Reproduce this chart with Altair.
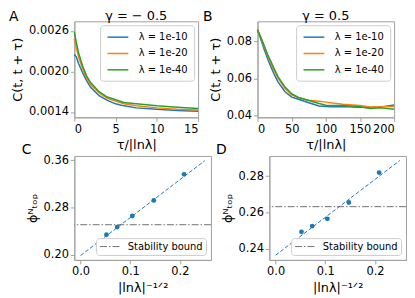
import altair as alt
import pandas as pd

FONT = "DejaVu Sans"
lam_labels = ["λ = 1e-10", "λ = 1e-20", "λ = 1e-40"]
colors = ["#1f77b4", "#ff7f0e", "#2ca02c"]
LINE_SYMBOL = "M-2.1,0H2.1"

# Panel A (gamma = -0.5)
a_tau = [0, 0.25, 0.5, 1, 1.5, 2, 3, 4, 5, 6, 7.5, 10, 12.5, 15]
a_blue = [0.00225, 0.00221, 0.00212, 0.00198, 0.00186, 0.00176, 0.00164, 0.00157,
          0.00152, 0.00149, 0.00146, 0.00144, 0.00142, 0.00141]
a_orange = [0.00248, 0.00235, 0.00222, 0.00204, 0.00190, 0.00180, 0.00168, 0.00160,
            0.00156, 0.00152, 0.00149, 0.00146, 0.00144, 0.00143]
a_green = [0.00258, 0.00242, 0.00228, 0.00208, 0.00193, 0.00183, 0.00170, 0.00162,
           0.00158, 0.00154, 0.00152, 0.00149, 0.00147, 0.00145]

# Panel B (gamma = 0.5)
b_tau = [0, 5, 10, 15, 20, 25, 30, 40, 50, 60, 75, 90, 100, 110, 125, 140, 150, 165, 180, 200]
b_blue = [0.0862, 0.0810, 0.0755, 0.0705, 0.0660, 0.0618, 0.0582, 0.0530, 0.0500, 0.0488,
          0.0470, 0.0452, 0.0449, 0.0448, 0.0450, 0.0446, 0.0445, 0.0444, 0.0446, 0.0458]
b_orange = [0.0862, 0.0818, 0.0770, 0.0722, 0.0680, 0.0638, 0.0602, 0.0548, 0.0512, 0.0496,
            0.0483, 0.0478, 0.0473, 0.0468, 0.0462, 0.0458, 0.0455, 0.0447, 0.0448, 0.0450]
b_green = [0.0862, 0.0820, 0.0775, 0.0728, 0.0688, 0.0648, 0.0610, 0.0555, 0.0518, 0.0498,
           0.0482, 0.0466, 0.0456, 0.0455, 0.0455, 0.0451, 0.0448, 0.0438, 0.0442, 0.0435]

# Panels C, D
inv_sqrt_ln = [0.0521, 0.0737, 0.1042, 0.1474, 0.2084]
c_phi = [0.234, 0.247, 0.2657, 0.292, 0.336]
d_phi = [0.2493, 0.2525, 0.2565, 0.2655, 0.282]
fit_x = [0.0, 0.25]
c_fit = [0.199, 0.359]
d_fit = [0.2364, 0.2887]
c_bound = 0.251
d_bound = 0.2632
bound_label = ["Stability bound"]


def label_text(t, x, y, size, align="left"):
    return alt.Chart(pd.DataFrame({"t": [t]})).mark_text(
        align=align, baseline="alphabetic", fontSize=size, font=FONT, color="black"
    ).encode(x=alt.value(x), y=alt.value(y), text="t:N")


def curve_panel(tau, series, xdom, xticks, ydom, yticks, yfmt, title, w, h, let, lx, ly):
    rows = []
    for lab, ser in zip(lam_labels, series):
        for t, v in zip(tau, ser):
            rows.append({"tau": t, "C": v, "lam": lab})
    df = pd.DataFrame(rows)
    lines = alt.Chart(df).mark_line(strokeWidth=1.5).encode(
        x=alt.X("tau:Q", scale=alt.Scale(domain=xdom, nice=False, zero=False),
                axis=alt.Axis(values=xticks, title="τ/|lnλ|", format="d")),
        y=alt.Y("C:Q", scale=alt.Scale(domain=ydom, nice=False, zero=False),
                axis=alt.Axis(values=yticks, format=yfmt, title="C(t, t + τ)")),
        color=alt.Color("lam:N", scale=alt.Scale(domain=lam_labels, range=colors),
                        legend=alt.Legend(title=None, orient="top-right", offset=4,
                                          fillColor="white", strokeColor="#cccccc",
                                          cornerRadius=3, padding=6, symbolType=LINE_SYMBOL,
                                          symbolSize=100, symbolOffset=6,
                                          symbolStrokeWidth=1.5,
                                          labelFontSize=10, labelFont=FONT, labelOffset=15,
                                          rowPadding=5.5)),
    )
    return alt.layer(
        lines,
        label_text(let, lx, ly, 14),
        label_text(title, w / 2, -1, 13, align="center"),
    ).properties(width=w, height=h)


def fit_panel(phi, fit, bound, ydom, yticks, w, h, let, lx, ly):
    pts = pd.DataFrame({"x": inv_sqrt_ln, "y": phi})
    fl = pd.DataFrame({"x": fit_x, "y": fit})
    bd = pd.DataFrame({"y": [bound], "lab": bound_label})
    xs = alt.Scale(domain=[-0.0125, 0.2625], nice=False, zero=False)
    ys = alt.Scale(domain=ydom, nice=False, zero=False)
    xax = alt.Axis(values=[0.0, 0.1, 0.2], format=".1f", title="|lnλ|⁻¹ᐟ²")
    yax = alt.Axis(values=yticks, format=".2f", title="ϕᴺₜₒₚ")
    line = alt.Chart(fl).mark_line(strokeWidth=1, strokeDash=[4, 2], color=colors[0]).encode(
        x=alt.X("x:Q", scale=xs, axis=xax), y=alt.Y("y:Q", scale=ys, axis=yax))
    dots = alt.Chart(pts).mark_circle(size=24, opacity=1, color=colors[0]).encode(
        x=alt.X("x:Q", scale=xs), y=alt.Y("y:Q", scale=ys))
    rule = alt.Chart(bd).mark_rule(strokeWidth=1, strokeDash=[7, 2, 1.5, 2]).encode(
        y=alt.Y("y:Q", scale=ys),
        color=alt.Color("lab:N", scale=alt.Scale(domain=bound_label, range=["#707070"]),
                        legend=alt.Legend(title=None, orient="bottom-right", offset=5,
                                          fillColor="white", strokeColor="#cccccc",
                                          cornerRadius=3, padding=3, symbolType=LINE_SYMBOL,
                                          symbolSize=100, symbolOffset=6,
                                          symbolStrokeWidth=1,
                                          symbolDash=[7, 2, 1.5, 2],
                                          labelFontSize=10, labelFont=FONT, labelOffset=12)),
    )
    return alt.layer(rule, line, dots, label_text(let, lx, ly, 14)).properties(width=w, height=h)


A = curve_panel(a_tau, [a_blue, a_orange, a_green], [0, 15], [0, 5, 10, 15],
                [0.00132, 0.00274], [0.0014, 0.0020, 0.0026], ".4f", "γ = − 0.5",
                125, 97, "A", -66, 0)
B = curve_panel(b_tau, [b_blue, b_orange, b_green], [0, 200], [0, 50, 100, 150, 200],
                [0.0391, 0.0908], [0.04, 0.06, 0.08], ".2f", "γ = 0.5",
                138, 97, "B", -55, 0)
C = fit_panel(c_phi, c_fit, c_bound, [0.1916, 0.367], [0.20, 0.28, 0.36], 138, 105, "C", -53, -2)
D = fit_panel(d_phi, d_fit, d_bound, [0.2338, 0.2912], [0.24, 0.26, 0.28], 138, 105, "D", -54, -2)

row1 = alt.hconcat(A, B, spacing=0).resolve_scale(color="independent").resolve_legend(color="independent")
row2 = alt.hconcat(C, D, spacing=3).resolve_scale(color="independent").resolve_legend(color="independent")

chart = alt.vconcat(row1, row2, spacing=-10).resolve_scale(color="independent").resolve_legend(
    color="independent"
).properties(padding=0).configure(font=FONT).configure_axis(
    labelFontSize=11.5, titleFontSize=13, titleFontWeight="normal", labelColor="black",
    titleColor="black", domainColor="#a0a0a0", tickColor="#a0a0a0", tickSize=4,
    labelPadding=2, titlePadding=4, grid=False, labelFont=FONT, titleFont=FONT
).configure_view(stroke="#a0a0a0", strokeWidth=1).configure_concat(spacing=0)

chart.save("out.html", embed_options={"renderer": "svg", "actions": False})
